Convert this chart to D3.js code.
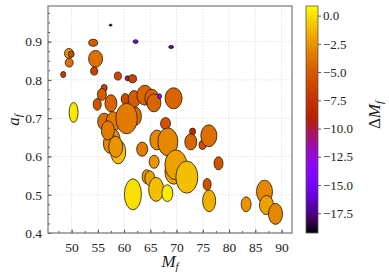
<!DOCTYPE html>
<html>
  <head>
    <meta charset="utf-8">
    <script src="https://d3js.org/d3.v7.min.js"></script>
    <style>
      body { margin: 0; background: #fff; }
      text { font-family: "Liberation Serif", "Times New Roman", serif; fill: #222; }
      .grid line { stroke: #ddd; stroke-dasharray: 1.5, 1.5; stroke-width: 0.8; }
    </style>
  </head>
  <body>
    <svg id="svg" width="389" height="278"></svg>
    <script>
// final mass, final spin, error widths, mass offset
var mf = [57.43, 62.19, 68.97, 54.11, 49.49, 49.92, 49.54, 54.57, 54.30, 48.40,
          58.82, 60.67, 61.62, 56.21, 55.77, 54.88, 57.49, 60.21, 61.92, 63.96,
          65.30, 65.68, 66.76, 69.43, 50.38, 62.25, 56.21, 57.92, 60.48, 67.90,
          73.05, 72.72, 74.95, 76.15, 57.92, 57.30, 58.88, 63.45, 61.68, 65.73,
          64.29, 64.91, 66.11, 68.25, 66.25, 68.34, 69.49, 69.87, 71.96, 78.00,
          75.83, 76.21, 83.26, 86.76, 87.14, 88.86, 56.90, 58.40];
var af = [0.943, 0.900, 0.886, 0.897, 0.869, 0.867, 0.845, 0.855, 0.823, 0.814,
          0.810, 0.804, 0.803, 0.779, 0.762, 0.736, 0.739, 0.750, 0.750, 0.760,
          0.752, 0.740, 0.757, 0.752, 0.715, 0.705, 0.691, 0.691, 0.699, 0.686,
          0.665, 0.638, 0.630, 0.654, 0.643, 0.634, 0.612, 0.619, 0.501, 0.586,
          0.547, 0.543, 0.514, 0.504, 0.643, 0.638, 0.559, 0.578, 0.546, 0.582,
          0.527, 0.484, 0.475, 0.508, 0.473, 0.450, 0.668, 0.625];
var dMf = [0.57, 0.95, 0.95, 1.7, 1.7, 1.14, 1.52, 2.67, 1.33, 0.95,
           1.33, 0.95, 1.52, 1.14, 1.71, 1.52, 2.29, 1.52, 2.29, 3.05,
           2.67, 2.67, 0.76, 3.24, 1.71, 2.1, 2.48, 2.67, 4.1, 1.9,
           1.14, 2.29, 1.33, 3.05, 2.67, 2.48, 2.86, 2.1, 3.24, 1.9,
           1.71, 1.9, 2.86, 2.1, 2.67, 3.81, 3.43, 4.19, 4.19, 1.71,
           1.52, 2.48, 1.9, 3.05, 2.67, 2.67, 2.48, 2.67];
var daf = [0.005, 0.010, 0.008, 0.018, 0.026, 0.016, 0.023, 0.044, 0.021, 0.016,
           0.021, 0.013, 0.021, 0.018, 0.031, 0.031, 0.044, 0.029, 0.044, 0.052,
           0.047, 0.047, 0.013, 0.055, 0.052, 0.047, 0.044, 0.052, 0.080, 0.031,
           0.018, 0.042, 0.023, 0.057, 0.057, 0.052, 0.063, 0.037, 0.081, 0.034,
           0.037, 0.039, 0.063, 0.044, 0.052, 0.073, 0.063, 0.078, 0.084, 0.034,
           0.031, 0.057, 0.039, 0.060, 0.050, 0.055, 0.050, 0.055];
var deltaM = [-19.0, -15.5, -16.5, -5.0, -2.5, -6.0, -4.0, -4.0, -6.5, -7.0,
              -6.0, -10.5, -6.5, -6.5, -5.0, -5.5, -4.5, -6.0, -5.0, -4.5,
              -4.5, -4.5, -13.0, -4.5, 0.2, -4.0, -4.0, -3.5, -3.5, -5.5,
              -8.0, -4.5, -6.0, -4.0, -3.0, -3.0, -1.0, -3.5, 0.0, -2.5,
              -2.5, -2.0, -1.0, 0.3, -3.0, -3.0, -2.0, -2.0, -1.0, -5.5,
              -5.5, -1.5, -2.5, -3.0, -2.0, -3.0, -3.5, -2.5];

var xTicks = [50, 55, 60, 65, 70, 75, 80, 85, 90];
var yTicks = [0.4, 0.5, 0.6, 0.7, 0.8, 0.9];
var cTicks = [0, -2.5, -5, -7.5, -10, -12.5, -15, -17.5];

var pLeft = 48, pRight = 292, pTop = 6, pBottom = 233;
var svg = d3.select('#svg');

var x = d3.scaleLinear().domain([45.5, 92]).range([pLeft, pRight]);
var y = d3.scaleLinear().domain([0.4, 0.993]).range([pBottom, pTop]);

// gnuplot colormap
function gnuplot(t) {
  t = Math.max(0, Math.min(1, t));
  var r = Math.sqrt(t), g = t * t * t, b = Math.max(0, Math.sin(2 * Math.PI * t));
  return d3.rgb(r * 255, g * 255, b * 255);
}
var cmin = -19.25, cmax = 0.85;
var cnorm = d3.scaleLinear().domain([cmin, cmax]).range([0, 1]);

// grid
var grid = svg.append('g').attr('class', 'grid');
grid.selectAll('.gx').data(xTicks).enter().append('line')
  .attr('x1', d => x(d)).attr('x2', d => x(d)).attr('y1', pTop).attr('y2', pBottom);
grid.selectAll('.gy').data(yTicks).enter().append('line')
  .attr('x1', pLeft).attr('x2', pRight).attr('y1', d => y(d)).attr('y2', d => y(d));

// bubbles
var idx = d3.range(mf.length);
svg.append('g').selectAll('ellipse').data(idx).enter().append('ellipse')
  .attr('cx', i => x(mf[i]))
  .attr('cy', i => y(af[i]))
  .attr('rx', i => (x(mf[i] + dMf[i] / 2) - x(mf[i] - dMf[i] / 2)) / 2)
  .attr('ry', i => (y(af[i] - daf[i] / 2) - y(af[i] + daf[i] / 2)) / 2)
  .style('fill', i => gnuplot(cnorm(deltaM[i])))
  .style('stroke', '#24160a')
  .style('stroke-width', 0.8);

// axes (ticks inward)
var xMinor = d3.range(47.5, 92, 2.5);
var yMinor = d3.range(0.4, 0.99, 0.025);
var xAxis = svg.append('g').attr('transform', 'translate(0,' + pBottom + ')')
  .call(d3.axisBottom(x).tickValues(xMinor).tickSize(-2).tickFormat(''));
xAxis.select('.domain').remove();
var xAxisMaj = svg.append('g').attr('transform', 'translate(0,' + pBottom + ')')
  .call(d3.axisBottom(x).tickValues(xTicks).tickSize(-3.5).tickPadding(9));
xAxisMaj.select('.domain').remove();
xAxisMaj.selectAll('text').style('font-size', '13.5px');

var yAxis = svg.append('g').attr('transform', 'translate(' + pLeft + ',0)')
  .call(d3.axisLeft(y).tickValues(yMinor).tickSize(-2).tickFormat(''));
yAxis.select('.domain').remove();
var yAxisMaj = svg.append('g').attr('transform', 'translate(' + pLeft + ',0)')
  .call(d3.axisLeft(y).tickValues(yTicks).tickSize(-3.5).tickPadding(6).tickFormat(d3.format('.1f')));
yAxisMaj.select('.domain').remove();
yAxisMaj.selectAll('text').style('font-size', '13.5px');
svg.selectAll('.tick line').style('stroke', '#555');

svg.append('rect').attr('x', pLeft).attr('y', pTop)
  .attr('width', pRight - pLeft).attr('height', pBottom - pTop)
  .style('fill', 'none').style('stroke', '#777').style('stroke-width', 1.2);

// axis labels
var xl = svg.append('text').attr('x', 170).attr('y', 267).attr('text-anchor', 'middle')
  .style('font-size', '17px').style('font-style', 'italic');
xl.append('tspan').text('M');
xl.append('tspan').attr('dy', 3).style('font-size', '11px').text('f');

var yl = svg.append('text').attr('transform', 'translate(19,120) rotate(-90)')
  .attr('text-anchor', 'middle').style('font-size', '17px').style('font-style', 'italic');
yl.append('tspan').text('a');
yl.append('tspan').attr('dy', 3).style('font-size', '11px').text('f');

// colorbar
var cbx = 306, cbw = 12;
var c = d3.scaleLinear().domain([cmin, cmax]).range([pBottom, pTop]);
var defs = svg.append('defs');
var grad = defs.append('linearGradient').attr('id', 'cgrad')
  .attr('x1', 0).attr('y1', 1).attr('x2', 0).attr('y2', 0);
grad.selectAll('stop').data(d3.range(0, 1.0001, 0.05)).enter().append('stop')
  .attr('offset', d => d).attr('stop-color', d => gnuplot(d));
svg.append('rect').attr('x', cbx).attr('y', pTop).attr('width', cbw).attr('height', pBottom - pTop)
  .style('fill', 'url(#cgrad)').style('stroke', '#555').style('stroke-width', 0.8);

var cAxis = svg.append('g').attr('transform', 'translate(' + (cbx + cbw) + ',0)')
  .call(d3.axisRight(c).tickValues(cTicks).tickSize(3).tickPadding(2)
    .tickFormat(d => d3.format('.1f')(d).replace('-', '\u2212')));
cAxis.select('.domain').remove();
cAxis.selectAll('text').style('font-size', '13px');
cAxis.selectAll('.tick line').style('stroke', '#555');

var cl = svg.append('text').attr('transform', 'translate(380,115) rotate(-90)')
  .attr('text-anchor', 'middle').style('font-size', '17px');
cl.append('tspan').text('\u0394');
cl.append('tspan').style('font-style', 'italic').text('M');
cl.append('tspan').attr('dy', 3).style('font-size', '11px').style('font-style', 'italic').text('f');
    </script>
  </body>
</html>
